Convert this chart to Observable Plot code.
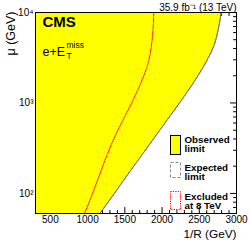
<!DOCTYPE html>
<html>
<head>
<meta charset="utf-8">
<script src="https://cdn.jsdelivr.net/npm/d3@7"></script>
<script src="https://cdn.jsdelivr.net/npm/@observablehq/plot@0.6"></script>
<style>
  html, body { margin: 0; padding: 0; background: #fff; }
  #chart svg { display: block; }
</style>
</head>
<body>
<div id="chart"></div>
<script>
// ---- data ----
const muObs      = [60, 100, 160, 265, 441, 646, 1074, 1786, 2972, 4350, 7244, 10000];
const invRObs    = [1164, 1359, 1533, 1727, 1921, 2066, 2261, 2443, 2604, 2698, 2765, 2794];
const muExp      = [60, 100, 160, 265, 441, 646, 1074, 1786, 2972, 4350, 7244, 10000];
const invRExp    = [1166, 1361, 1535, 1729, 1923, 2068, 2263, 2445, 2606, 2700, 2767, 2796];
const mu8TeV     = [60, 96, 160, 265, 441, 646, 1074, 1786, 2620, 4350, 7244, 10000];
const invR8TeV   = [958, 1059, 1160, 1260, 1375, 1475, 1610, 1731, 1805, 1858, 1882, 1889];
const xMajorTicks = [500, 1000, 1500, 2000, 2500, 3000];
const yMajorTicks = [100, 1000, 10000];
const yTickLabels = ["10²", "10³", "10⁴"];
const xDomain = [300, 3000];
const yDomain = [60, 10000];

const obs = muObs.map((m, i) => ({mu: m, x: invRObs[i]}));
const exp = muExp.map((m, i) => ({mu: m, x: invRExp[i]}));
const old = mu8TeV.map((m, i) => ({mu: m, x: invR8TeV[i]}));

const xMinor = d3.range(300, 3001, 100).filter(v => !xMajorTicks.includes(v));
const yMinor = [];
for (const dec of [10, 100, 1000]) for (let k = 2; k <= 9; k++) {
  const v = k * dec; if (v >= yDomain[0] && v < yDomain[1]) yMinor.push(v);
}

const tickShape = {draw(ctx, l) { ctx.moveTo(0, 0); ctx.lineTo(0, -l); }};
const tk = (data, opts) => Plot.vector(data, {anchor: "start", shape: tickShape, stroke: "black", strokeWidth: 1, ...opts});

const FONT = "'Liberation Sans', Arial, Helvetica, sans-serif";
const legendText = {frameAnchor: "top-left", textAnchor: "start", lineAnchor: "bottom", dx: 149, fontSize: 9.8, fontWeight: "bold"};

const chart = Plot.plot({
  width: 249,
  height: 240,
  marginTop: 12,
  marginRight: 13,
  marginBottom: 27,
  marginLeft: 35,
  style: {fontFamily: FONT, background: "#fff", color: "#000"},
  x: {type: "linear", domain: xDomain},
  y: {type: "log", domain: yDomain},
  marks: [
    // inward ticks (drawn first, hidden under the yellow region like the original)
    tk(xMajorTicks, {x: d => d, frameAnchor: "bottom", length: 6, rotate: 0}),
    tk(xMinor, {x: d => d, frameAnchor: "bottom", length: 3, rotate: 0}),
    tk(xMajorTicks, {x: d => d, frameAnchor: "top", length: 6, rotate: 180}),
    tk(xMinor, {x: d => d, frameAnchor: "top", length: 3, rotate: 180}),
    tk(yMajorTicks, {y: d => d, frameAnchor: "right", length: 6, rotate: -90}),
    tk(yMinor, {y: d => d, frameAnchor: "right", length: 3, rotate: -90}),
    tk(yMajorTicks, {y: d => d, frameAnchor: "left", length: 6, rotate: 90}),
    tk(yMinor, {y: d => d, frameAnchor: "left", length: 3, rotate: 90}),
    // observed excluded region
    Plot.areaX(obs, {y: "mu", x1: xDomain[0], x2: "x", fill: "#ffff00", curve: "monotone-y"}),
    Plot.line(obs, {x: "x", y: "mu", stroke: "#222", strokeWidth: 0.8, curve: "monotone-y"}),
    Plot.line(exp, {x: "x", y: "mu", stroke: "#888", strokeWidth: 1, strokeDasharray: "3,2", curve: "monotone-y"}),
    Plot.line(old, {x: "x", y: "mu", stroke: "#ff0000", strokeWidth: 1, strokeDasharray: "1.2,1.2", curve: "monotone-y"}),
    Plot.frame({stroke: "#000", strokeWidth: 1}),
    // axes
    Plot.axisX({ticks: xMajorTicks, tickSize: 0, tickPadding: 2, fontSize: 10, label: null, tickFormat: d => String(d)}),
    Plot.axisY({ticks: yMajorTicks, tickSize: 0, tickPadding: 2, fontSize: 10, label: null,
      tickFormat: d => yTickLabels[yMajorTicks.indexOf(d)]}),
    Plot.text(["1/R (GeV)"], {frameAnchor: "bottom-right", textAnchor: "end", lineAnchor: "bottom", dy: 24, fontSize: 11.8}),
    Plot.text(["μ (GeV)"], {frameAnchor: "top-left", textAnchor: "end", lineAnchor: "middle", rotate: -90, dx: -25, dy: -1, fontSize: 12.5}),
    Plot.text(["35.9 fb⁻¹ (13 TeV)"], {frameAnchor: "top-right", textAnchor: "end", lineAnchor: "bottom", dy: -2, fontSize: 10}),
    // CMS labels
    Plot.text(["CMS"], {frameAnchor: "top-left", textAnchor: "start", lineAnchor: "bottom", dx: 7, dy: 14, fontSize: 15, fontWeight: "bold"}),
    Plot.text(["e+E"], {frameAnchor: "top-left", textAnchor: "start", lineAnchor: "bottom", dx: 7, dy: 43, fontSize: 12.5}),
    Plot.text(["miss"], {frameAnchor: "top-left", textAnchor: "start", lineAnchor: "bottom", dx: 31, dy: 35, fontSize: 8.5}),
    Plot.text(["T"], {frameAnchor: "top-left", textAnchor: "start", lineAnchor: "bottom", dx: 31, dy: 46, fontSize: 8.5}),
    // legend text
    Plot.text(["Observed"], {...legendText, dy: 130}),
    Plot.text(["limit"], {...legendText, dy: 139.5}),
    Plot.text(["Expected"], {...legendText, dy: 158}),
    Plot.text(["limit"], {...legendText, dy: 167.5}),
    Plot.text(["Excluded"], {...legendText, dy: 187}),
    Plot.text(["at 8 TeV"], {...legendText, dy: 196.5})
  ]
});

// legend boxes
const svg = d3.select(chart);
const lg = svg.append("g");
lg.append("rect").attr("x", 170.5).attr("y", 135.5).attr("width", 10).attr("height", 19)
  .attr("fill", "#ffff00").attr("stroke", "#000").attr("stroke-width", 1);
lg.append("rect").attr("x", 170.5).attr("y", 162.5).attr("width", 10).attr("height", 15)
  .attr("fill", "none").attr("stroke", "#888").attr("stroke-width", 1).attr("stroke-dasharray", "3,2");
lg.append("rect").attr("x", 170.5).attr("y", 191.5).attr("width", 10).attr("height", 18)
  .attr("fill", "none").attr("stroke", "#ff0000").attr("stroke-width", 1).attr("stroke-dasharray", "1.2,1.2");

document.getElementById("chart").appendChild(chart);
</script>
</body>
</html>
